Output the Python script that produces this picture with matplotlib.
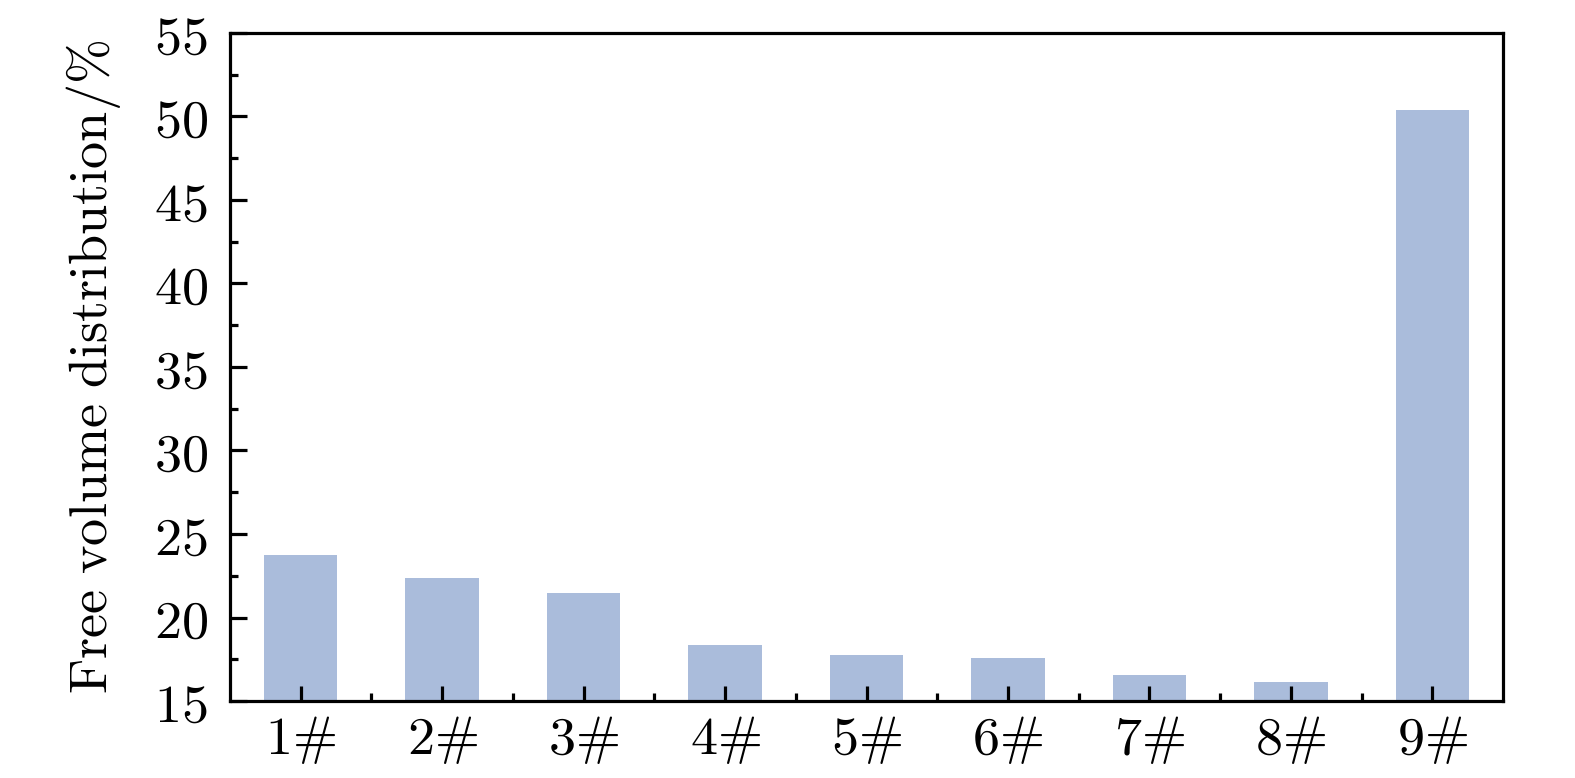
import matplotlib
matplotlib.use("Agg")
import matplotlib.pyplot as plt
from matplotlib.ticker import MultipleLocator, FuncFormatter

plt.rcParams['mathtext.fontset'] = 'cm'
plt.rcParams['font.family'] = 'serif'

categories = ['1#', '2#', '3#', '4#', '5#', '6#', '7#', '8#', '9#']
values = [23.75, 22.35, 21.45, 18.35, 17.75, 17.55, 16.55, 16.15, 50.4]

fig = plt.figure(figsize=(15.75, 7.78), dpi=100)
ax = fig.add_axes([230/1575, 1-701/778, (1503-230)/1575, (701-33)/778])

x = list(range(1, len(categories) + 1))
ax.bar(x, [v - 15 for v in values], bottom=15, width=0.52, color='#aabcdb', zorder=1)

ax.set_xlim(0.5, 9.5)
ax.set_ylim(15, 55)
ax.set_xticks(x)
ax.set_xticklabels([r'$' + c.replace('#', r'\#') + r'$' for c in categories])
ax.set_xticks([i + 0.5 for i in x[:-1]], minor=True)
ax.yaxis.set_major_locator(MultipleLocator(5))
ax.yaxis.set_minor_locator(MultipleLocator(2.5))
ax.yaxis.set_major_formatter(FuncFormatter(lambda v, p: r'$%d$' % round(v)))

for s in ax.spines.values():
    s.set_linewidth(2.3)
    s.set_zorder(3)
ax.tick_params(which='major', direction='in', length=11, width=2.3, labelsize=39)
ax.tick_params(which='minor', direction='in', length=6, width=2.3)
ax.tick_params(axis='y', which='major', length=12, pad=16)
ax.tick_params(axis='x', which='major', pad=9)
ax.tick_params(top=False, right=False, which='both')

ax.set_ylabel(r'$\mathrm{Free\ volume\ distribution/\%}$', fontsize=39, labelpad=22)

fig.savefig('out.png', dpi=100)
